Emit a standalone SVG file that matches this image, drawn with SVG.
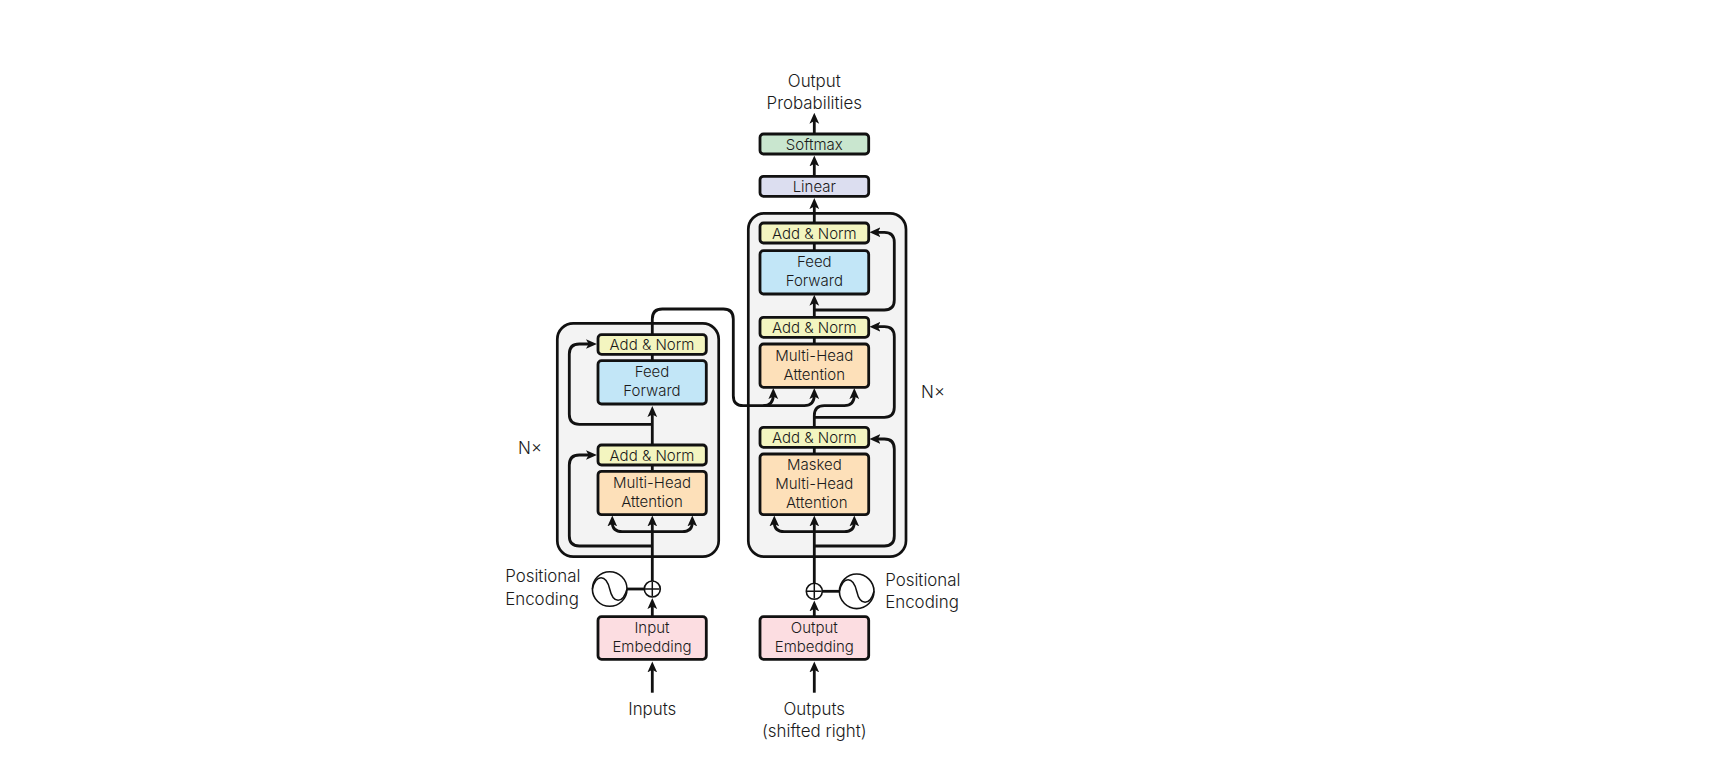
<svg xmlns="http://www.w3.org/2000/svg" width="1731" height="777" viewBox="0 0 1731 777">
<style>
text{font-family:"Inter","Liberation Sans",Arial,sans-serif;font-weight:300;fill:#1a1a1a;text-anchor:middle}
.t{font-size:15px}
.l{font-size:16.9px}
.s{text-anchor:start}
.b{stroke:#111;stroke-width:2.8}
.block{fill:#f3f3f3;stroke:#111;stroke-width:2.7}
.softmax{fill:#c9e6cf}.linear{fill:#dcdef0}.norm{fill:#f3f5c0}.ff{fill:#c2e6f7}.mha{fill:#fde0b9}.emb{fill:#fcdde1}
.c path,.c line{fill:none;stroke:#111;stroke-width:2.8}
.a{marker-end:url(#h)}
.o{fill:#fff;stroke:#111;stroke-width:1.6}
.w{fill:none;stroke:#111;stroke-width:1.5}
</style>
<defs><marker id="h" markerUnits="userSpaceOnUse" markerWidth="11" markerHeight="11" viewBox="0 0 9 9" refX="3.5" refY="4.5" orient="auto"><path d="M0 .5L9 4.5L0 8.5L2.2 4.5Z" fill="#111"/></marker></defs>
<g id="encoder-block"><rect class="block" x="557.3" y="323.3" width="161.4" height="233.4" rx="16"/></g>
<g id="decoder-block"><rect class="block" x="748.3" y="213.3" width="157.7" height="343.4" rx="16"/></g>
<g id="connectors" class="c">
<path class="a" d="M652.3 692.7V668.2"/>
<path class="a" d="M814.3 692.7V668.2"/>
<path class="a" d="M652.3 616.7V604.8"/>
<path class="a" d="M814.3 616.7V607.2"/>
<path class="a" d="M652.3 581V522.2"/>
<path class="a" d="M814.3 583.3V522.2"/>
<path class="a" d="M652.3 531.7H622.3Q612.3 531.7 612.3 522.2"/>
<path class="a" d="M652.3 531.7H682.3Q692.3 531.7 692.3 522.2"/>
<path class="a" d="M814.3 531.7H784.3Q774.3 531.7 774.3 522.2"/>
<path class="a" d="M814.3 531.7H844.3Q854.3 531.7 854.3 522.2"/>
<path class="a" d="M652.3 546H579.3Q569.3 546 569.3 536V465Q569.3 455 579.3 455H590.2"/>
<path class="a" d="M652.3 424.3H579.3Q569.3 424.3 569.3 414.3V354Q569.3 344 579.3 344H590.2"/>
<path d="M652.3 471.3V465"/>
<path d="M652.3 360.7V354.3"/>
<path class="a" d="M652.3 445V412.8"/>
<path class="a" d="M652.3 335V319Q652.3 309 662.3 309H723.3Q733.3 309 733.3 319V395.7Q733.3 405.7 743.3 405.7H763.3Q773.3 405.7 773.3 394.8"/>
<path class="a" d="M763.3 405.7H804.3Q814.3 405.7 814.3 394.8"/>
<path class="a" d="M814.3 427.3V415.7Q814.3 405.7 824.3 405.7H844.3Q854.3 405.7 854.3 394.8"/>
<path class="a" d="M814.3 546H884.3Q894.3 546 894.3 536V449Q894.3 439 884.3 439H876.2"/>
<path class="a" d="M814.3 417.3H884.3Q894.3 417.3 894.3 407.3V336.7Q894.3 326.7 884.3 326.7H876.2"/>
<path class="a" d="M814.3 310H884.3Q894.3 310 894.3 300V242.3Q894.3 232.3 884.3 232.3H876.2"/>
<path d="M814.3 454V447.3"/>
<path d="M814.3 344V337.3"/>
<path d="M814.3 250.7V243"/>
<path class="a" d="M814.3 317.3V301.5"/>
<path class="a" d="M814.3 223V204.8"/>
<path class="a" d="M814.3 176.3V162.2"/>
<path class="a" d="M814.3 134V119.5"/>
<line x1="627" y1="589" x2="645" y2="589"/>
<line x1="822" y1="591.3" x2="839.5" y2="591.3"/>
</g>
<g id="softmax"><rect class="b softmax" x="760" y="134" width="108.7" height="20" rx="3.5"/><text class="t" x="814.3" y="150">Softmax</text></g>
<g id="linear"><rect class="b linear" x="760" y="176.3" width="108.7" height="20" rx="3.5"/><text class="t" x="814.3" y="192.3">Linear</text></g>
<g id="dec-norm-3"><rect class="b norm" x="760" y="223" width="108.7" height="20" rx="3.5"/><text class="t" x="814.3" y="238.7">Add &amp; Norm</text></g>
<g id="dec-ff"><rect class="b ff" x="760" y="250.7" width="108.7" height="43.3" rx="3.5"/><text class="t" x="814.3" y="266.7">Feed</text><text class="t" x="814.3" y="285.5">Forward</text></g>
<g id="dec-norm-2"><rect class="b norm" x="760" y="317.3" width="108.7" height="20" rx="3.5"/><text class="t" x="814.3" y="333">Add &amp; Norm</text></g>
<g id="dec-mha"><rect class="b mha" x="760" y="344" width="108.7" height="43.3" rx="3.5"/><text class="t" x="814.3" y="361">Multi-Head</text><text class="t" x="814.3" y="380">Attention</text></g>
<g id="dec-norm-1"><rect class="b norm" x="760" y="427.3" width="108.7" height="20" rx="3.5"/><text class="t" x="814.3" y="443">Add &amp; Norm</text></g>
<g id="dec-masked"><rect class="b mha" x="760" y="454" width="108.7" height="60.7" rx="3.5"/><text class="t" x="814.3" y="470">Masked</text><text class="t" x="814.3" y="489">Multi-Head</text><text class="t" x="816.7" y="508">Attention</text></g>
<g id="output-embedding"><rect class="b emb" x="760" y="616.7" width="108.7" height="42.6" rx="3.5"/><text class="t" x="814.3" y="633">Output</text><text class="t" x="814.3" y="652">Embedding</text></g>
<g id="enc-norm-2"><rect class="b norm" x="598" y="334.7" width="108.3" height="19.6" rx="3.5"/><text class="t" x="652" y="350">Add &amp; Norm</text></g>
<g id="enc-ff"><rect class="b ff" x="598" y="360.7" width="108.3" height="43.3" rx="3.5"/><text class="t" x="652" y="377">Feed</text><text class="t" x="652" y="396">Forward</text></g>
<g id="enc-norm-1"><rect class="b norm" x="598" y="445" width="108.3" height="20" rx="3.5"/><text class="t" x="652" y="460.7">Add &amp; Norm</text></g>
<g id="enc-mha"><rect class="b mha" x="598" y="471.3" width="108.3" height="43.4" rx="3.5"/><text class="t" x="652" y="487.7">Multi-Head</text><text class="t" x="652" y="506.5">Attention</text></g>
<g id="input-embedding"><rect class="b emb" x="598" y="616.7" width="108.3" height="42.6" rx="3.5"/><text class="t" x="652" y="633">Input</text><text class="t" x="652" y="652">Embedding</text></g>
<g id="enc-pos"><circle class="o" cx="609.7" cy="589" r="17.3"/><path class="w" d="M592.4 589C596 574 606 574 609.7 589C613 604 623 604 627 589"/></g>
<g id="enc-add"><circle class="o" cx="652.3" cy="589" r="8"/><path class="w" d="M645 589H659.6M652.3 581.7V596.3"/></g>
<g id="dec-pos"><circle class="o" cx="856.7" cy="591.3" r="17.3"/><path class="w" d="M839.4 591.3C843 576 853 576 856.7 591.3C860 606 870 606 874 591.3"/></g>
<g id="dec-add"><circle class="o" cx="814.3" cy="591.3" r="8"/><path class="w" d="M807 591.3H821.6M814.3 584V598.6"/></g>
<g id="labels">
<text class="l" x="814.3" y="86.7">Output</text><text class="l" x="814.3" y="109">Probabilities</text>
<text class="l" x="933" y="397.7">N×</text><text class="l" x="530" y="453.7">N×</text>
<text class="l s" x="505.2" y="582.3">Positional</text><text class="l s" x="505.2" y="605">Encoding</text>
<text class="l s" x="885.2" y="585.7">Positional</text><text class="l s" x="885.2" y="608">Encoding</text>
<text class="l" x="652.3" y="714.7">Inputs</text><text class="l" x="814.3" y="714.7">Outputs</text><text class="l" x="814.3" y="736.7">(shifted right)</text>
</g>
</svg>
